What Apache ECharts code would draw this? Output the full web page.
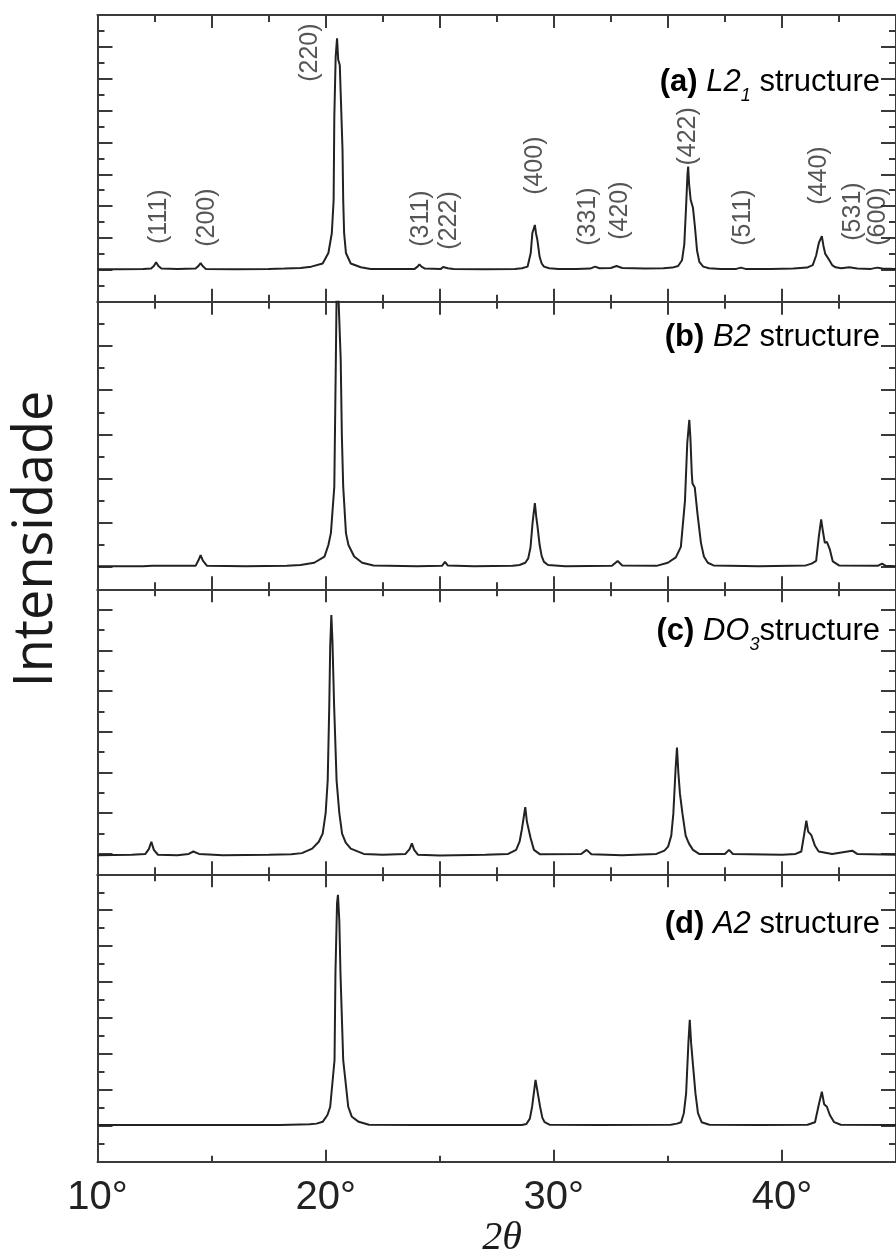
<!DOCTYPE html>
<html>
<head>
<meta charset="utf-8">
<script src="https://cdn.jsdelivr.net/npm/echarts@6/dist/echarts.min.js"></script>
<style>
  html, body { margin: 0; padding: 0; background: #ffffff; }
  #chart { width: 896px; height: 1259px; }
</style>
</head>
<body>
<div id="chart"></div>
<script>
// XRD patterns, [2θ (deg), intensity (arb. units)] for each ordering type
const patternL21 = [
  [10,1.02],[11,1.02],[12,1.03],[12.35,1.04],[12.47,1.12],[12.57,1.24],[12.67,1.12],[12.8,1.04],[13.5,1.03],
  [14.3,1.04],[14.42,1.12],[14.52,1.21],[14.62,1.11],[14.75,1.03],[16,1.02],[17.5,1.03],[18.2,1.04],
  [18.9,1.06],[19.37,1.1],[19.87,1.2],[20.12,1.53],[20.27,2.15],[20.35,3.19],[20.38,5.8],[20.44,7.7],
  [20.5,8.27],[20.55,7.6],[20.62,7.42],[20.67,7.38],[20.74,4.76],[20.77,3.19],[20.81,2.15],[20.89,1.53],
  [21.1,1.2],[21.54,1.08],[21.97,1.03],[23,1.03],[23.9,1.03],[24.03,1.1],[24.11,1.17],[24.2,1.1],
  [24.35,1.04],[25.05,1.03],[25.15,1.09],[25.23,1.11],[25.35,1.05],[25.6,1.03],[27,1.02],[28.3,1.03],
  [28.6,1.05],[28.85,1.1],[28.99,1.53],[29.06,2.15],[29.17,2.41],[29.22,2.15],[29.28,1.94],[29.38,1.41],
  [29.47,1.2],[29.57,1.1],[29.8,1.05],[30.2,1.03],[31,1.03],[31.6,1.04],[31.81,1.1],[32.0,1.05],
  [32.5,1.06],[32.75,1.12],[33.0,1.06],[34,1.04],[34.8,1.05],[35.2,1.07],[35.45,1.12],[35.62,1.3],
  [35.72,1.8],[35.8,3.0],[35.86,4.0],[35.89,4.24],[35.93,3.7],[36.0,3.2],[36.1,2.95],[36.18,2.4],
  [36.28,1.6],[36.38,1.25],[36.55,1.1],[36.8,1.05],[37.3,1.03],[38.0,1.03],[38.2,1.07],[38.4,1.03],
  [39.5,1.03],[40.5,1.04],[41.1,1.07],[41.35,1.15],[41.5,1.45],[41.62,1.85],[41.75,2.06],[41.82,1.75],
  [41.9,1.5],[41.97,1.47],[42.08,1.3],[42.2,1.15],[42.35,1.08],[42.6,1.05],[42.95,1.08],[43.3,1.04],
  [43.9,1.03],[44.18,1.07],[44.4,1.04],[45,1.03]
];
const patternB2 = [
  [10,0.52],[12,0.52],[12.4,0.53],[14.3,0.53],[14.42,0.65],[14.52,0.77],[14.62,0.65],[14.8,0.53],
  [16.5,0.52],[18.3,0.53],[18.9,0.55],[19.5,0.6],[19.95,0.74],[20.12,1.0],[20.23,1.27],[20.38,2.32],
  [20.45,5.3],[20.5,7.5],[20.58,7.5],[20.66,5.2],[20.71,3.49],[20.77,2.32],[20.89,1.27],[21.0,1.0],
  [21.25,0.74],[21.6,0.6],[22.1,0.54],[24,0.52],[25.1,0.53],[25.23,0.62],[25.35,0.54],[26.5,0.52],
  [28.2,0.53],[28.5,0.55],[28.75,0.6],[28.88,0.7],[28.98,0.95],[29.07,1.5],[29.17,1.95],[29.24,1.6],
  [29.28,1.45],[29.38,1.0],[29.47,0.75],[29.57,0.62],[29.75,0.55],[30.5,0.52],[32.55,0.53],[32.8,0.64],
  [33.0,0.54],[34.5,0.53],[35.0,0.6],[35.35,0.72],[35.57,0.96],[35.75,2.0],[35.85,3.3],[35.94,3.83],
  [35.99,3.4],[36.05,2.6],[36.08,2.39],[36.18,2.3],[36.3,1.7],[36.45,1.05],[36.58,0.74],[36.75,0.6],
  [37.0,0.54],[39,0.52],[41.05,0.54],[41.3,0.58],[41.5,0.64],[41.62,1.2],[41.72,1.58],[41.8,1.3],
  [41.88,1.05],[41.97,1.07],[42.1,0.9],[42.23,0.63],[42.5,0.54],[44.2,0.53],[44.39,0.58],[44.55,0.53],
  [45,0.52]
];
const patternDO3 = [
  [10,0.47],[11.5,0.48],[12.1,0.5],[12.25,0.62],[12.36,0.8],[12.47,0.6],[12.65,0.48],[13.5,0.47],
  [14.0,0.5],[14.2,0.56],[14.45,0.5],[15.5,0.47],[17.5,0.48],[18.5,0.49],[18.96,0.52],[19.41,0.63],
  [19.7,0.8],[19.87,1.0],[20.0,1.5],[20.09,2.3],[20.16,4.17],[20.2,5.6],[20.25,6.37],[20.3,5.7],
  [20.37,4.17],[20.48,2.3],[20.6,1.5],[20.72,1.0],[20.88,0.78],[21.1,0.63],[21.67,0.5],[22.5,0.48],
  [23.5,0.5],[23.68,0.62],[23.78,0.76],[23.88,0.6],[24.05,0.48],[25,0.46],[27,0.48],[28.0,0.5],
  [28.35,0.6],[28.5,0.8],[28.6,1.1],[28.75,1.65],[28.82,1.3],[28.86,1.2],[28.98,0.9],[29.13,0.6],
  [29.4,0.49],[31.2,0.5],[31.44,0.6],[31.65,0.49],[33,0.47],[34.5,0.5],[34.85,0.58],[35.01,0.68],
  [35.15,0.95],[35.24,1.49],[35.34,2.6],[35.4,3.11],[35.46,2.5],[35.53,1.98],[35.64,1.49],[35.78,0.95],
  [35.92,0.76],[36.1,0.6],[36.37,0.5],[37.5,0.5],[37.68,0.6],[37.85,0.5],[40,0.48],[40.6,0.5],
  [40.85,0.56],[40.98,1.0],[41.07,1.32],[41.15,1.05],[41.29,0.96],[41.45,0.7],[41.61,0.56],[42.2,0.5],
  [43.08,0.58],[43.3,0.5],[45,0.48]
];
const patternA2 = [
  [10,1.02],[12,1.02],[15,1.02],[18,1.02],[19.3,1.04],[19.6,1.06],[19.87,1.11],[20.08,1.3],
  [20.2,1.53],[20.39,2.83],[20.43,5.25],[20.5,7.2],[20.54,7.43],[20.6,6.7],[20.65,5.25],[20.77,2.83],
  [20.99,1.53],[21.15,1.25],[21.45,1.11],[21.9,1.03],[24,1.02],[28.6,1.02],[28.8,1.05],[28.95,1.2],
  [29.05,1.53],[29.2,2.28],[29.3,1.9],[29.4,1.53],[29.5,1.22],[29.6,1.1],[29.81,1.03],[32,1.02],
  [35.13,1.03],[35.4,1.06],[35.58,1.1],[35.7,1.35],[35.8,1.9],[35.9,3.3],[35.96,3.95],[36.02,3.3],
  [36.1,2.7],[36.14,2.65],[36.21,1.9],[36.32,1.35],[36.48,1.1],[36.82,1.03],[39,1.02],[41.12,1.03],
  [41.45,1.1],[41.62,1.6],[41.75,1.95],[41.85,1.6],[41.97,1.53],[42.1,1.3],[42.29,1.1],[42.58,1.03],
  [45,1.02]
];

// Miller indices marked on the L2_1 pattern: label text, 2θ and height of the label centre
const hklNames  = ['(111)','(200)','(220)','(311)','(222)','(400)','(331)','(420)','(422)','(511)','(440)','(531)','(600)'];
const hklAngles = [12.7, 14.8, 19.33, 24.2, 25.4, 29.2, 31.5, 32.9, 35.9, 38.3, 41.65, 43.1, 44.2];
const hklLevels = [2.67, 2.64, 7.82, 2.61, 2.55, 4.27, 2.67, 2.86, 5.19, 2.64, 3.96, 2.83, 2.67];

// Bottom axis tick labels
const xTickValues = [10, 20, 30, 40];
const xTickLabels = ['10°', '20°', '30°', '40°'];

const FRAME = '#3a3a3a';
const INK = '#222222';
const PLOT_LEFT = 97.5;
const PLOT_WIDTH = 806.4;   // 10°..45°, the right edge runs past the page

function steps(from, to) {
  const out = [];
  for (let v = from; v <= to + 1e-9; v += 1) out.push(+v.toFixed(2));
  return out;
}

const panels = [
  { data: patternL21, top: 15,    height: 286.7, max: 9,   long: steps(0, 9),     short: steps(0.5, 8.5) },
  { data: patternB2,  top: 301.7, height: 287.6, max: 6.5, long: steps(0.5, 6.5), short: steps(0, 6) },
  { data: patternDO3, top: 589.3, height: 285.0, max: 7,   long: steps(0.5, 6.5), short: steps(0, 7) },
  { data: patternA2,  top: 874.3, height: 287.4, max: 8,   long: steps(0, 8),     short: steps(0.5, 7.5) }
];

const line = { color: FRAME, width: 2 };
const grid = [], xAxis = [], yAxis = [], series = [];

panels.forEach((p, i) => {
  grid.push({ left: PLOT_LEFT, width: PLOT_WIDTH, top: p.top, height: p.height, containLabel: false });
  const last = i === panels.length - 1;

  // bottom edge
  const xBottom = xAxis.length;
  if (!last) {
    xAxis.push({
      type: 'value', gridIndex: i, position: 'bottom', min: 10, max: 45, interval: 5,
      axisLine: { show: true, onZero: false, lineStyle: line },
      axisTick: { show: true, inside: true, length: 13, lineStyle: line },
      minorTick: { show: true, splitNumber: 2, length: 7, lineStyle: line },
      axisLabel: { show: false }, splitLine: { show: false }, minorSplitLine: { show: false }
    });
  } else {
    xAxis.push({
      type: 'value', gridIndex: i, position: 'bottom', min: 10, max: 45,
      axisLine: { show: true, onZero: false, lineStyle: line },
      axisTick: { show: true, inside: true, length: 12, customValues: xTickValues, lineStyle: line },
      axisLabel: {
        show: true, customValues: xTickValues, margin: 16,
        formatter: v => xTickLabels[xTickValues.indexOf(v)] || '',
        fontFamily: 'Liberation Sans', fontSize: 40, color: '#222'
      },
      splitLine: { show: false }
    });
    xAxis.push({
      type: 'value', gridIndex: i, position: 'bottom', min: 10, max: 45,
      axisLine: { show: false, onZero: false },
      axisTick: { show: true, inside: true, length: 6, customValues: [15, 25, 35], lineStyle: line },
      axisLabel: { show: false }, splitLine: { show: false }
    });
  }
  // top edge
  xAxis.push({
    type: 'value', gridIndex: i, position: 'top', min: 10, max: 45, interval: 5,
    axisLine: { show: true, onZero: false, lineStyle: line },
    axisTick: { show: true, inside: true, length: 13, lineStyle: line },
    minorTick: { show: true, splitNumber: 2, length: 7, lineStyle: line },
    axisLabel: { show: false }, splitLine: { show: false }, minorSplitLine: { show: false }
  });

  const yMain = yAxis.length;
  ['left', 'right'].forEach(side => {
    yAxis.push({
      type: 'value', gridIndex: i, position: side, min: 0, max: p.max,
      axisLine: { show: true, onZero: false, lineStyle: line },
      axisTick: { show: true, inside: true, length: 15, customValues: p.long, lineStyle: line },
      axisLabel: { show: false }, splitLine: { show: false }
    });
    yAxis.push({
      type: 'value', gridIndex: i, position: side, min: 0, max: p.max,
      axisLine: { show: false, onZero: false },
      axisTick: { show: true, inside: true, length: 7, customValues: p.short, lineStyle: line },
      axisLabel: { show: false }, splitLine: { show: false }
    });
  });

  series.push({
    type: 'line', xAxisIndex: xBottom, yAxisIndex: yMain, data: p.data,
    showSymbol: false, symbol: 'none', smooth: false, clip: true,
    lineStyle: { color: INK, width: 2 }, z: 3
  });

  if (i === 0) {
    series.push({
      type: 'scatter', xAxisIndex: xBottom, yAxisIndex: yMain,
      data: hklAngles.map((a, k) => [a, hklLevels[k], hklNames[k]]),
      symbolSize: 2, itemStyle: { color: 'rgba(0,0,0,0)' },
      labelLayout: { hideOverlap: false },
      label: {
        show: true, position: 'inside', rotate: 90,
        formatter: prm => prm.value[2],
        fontFamily: 'Liberation Sans', fontSize: 25, color: '#2b2b2b'
      },
      z: 4
    });
  }
});

const titleRich = {
  b: { fontFamily: 'Liberation Sans', fontWeight: 'bold', fontSize: 31, color: '#2a2a2a', lineHeight: 46 },
  i: { fontFamily: 'Liberation Sans', fontStyle: 'italic', fontSize: 31, color: '#2a2a2a', lineHeight: 46 },
  r: { fontFamily: 'Liberation Sans', fontSize: 31, color: '#2a2a2a', lineHeight: 46 },
  s: { fontFamily: 'Liberation Sans', fontStyle: 'italic', fontSize: 18, color: '#555', lineHeight: 18, verticalAlign: 'bottom' },
  g: { fontFamily: 'Liberation Sans', fontStyle: 'italic', fontSize: 18, color: '#9a9a9a', lineHeight: 18, verticalAlign: 'bottom' }
};
const titles = [
  { y: 82,  text: '{b|(a)}{r| }{i|L2}{s|1}{r| structure}' },
  { y: 337, text: '{b|(b)}{r| }{i|B2}{r| structure}' },
  { y: 631, text: '{b|(c)}{r| }{i|DO}{g|3}{r|structure}' },
  { y: 924, text: '{b|(d)}{r| }{i|A2}{r| structure}' }
];

const graphic = titles.map(t => ({
  type: 'text', x: 880, y: t.y, z: 10,
  style: { text: t.text, rich: titleRich, align: 'right', verticalAlign: 'middle',
           fontFamily: 'Liberation Sans', fontSize: 31 }
}));
graphic.push({
  type: 'text', x: 37, y: 539, rotation: Math.PI / 2, z: 10,
  style: { text: 'Intensidade', fontFamily: 'Open Sans', fontSize: 54, fill: '#1a1a1a',
           align: 'center', verticalAlign: 'middle' }
});
graphic.push({
  type: 'text', x: 502, y: 1238, z: 10,
  style: { text: '2θ', fontFamily: 'Liberation Serif', fontStyle: 'italic', fontSize: 40, fill: '#1a1a1a',
           align: 'center', verticalAlign: 'middle' }
});

const chart = echarts.init(document.getElementById('chart'), null, { renderer: 'canvas' });
chart.setOption({
  animation: false,
  backgroundColor: '#ffffff',
  grid, xAxis, yAxis, series, graphic
});
</script>
</body>
</html>
